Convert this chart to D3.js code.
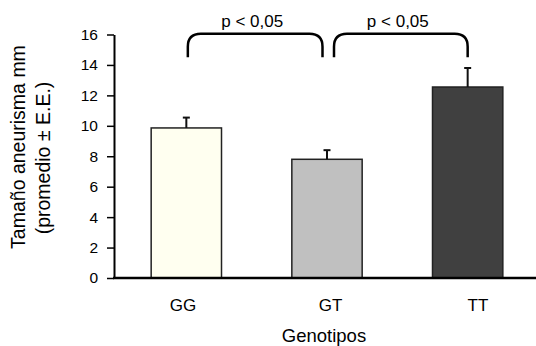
<!DOCTYPE html>
<html>
<head>
<meta charset="utf-8">
<script src="https://cdn.jsdelivr.net/npm/d3@7"></script>
<style>
  body { margin: 0; background: #fff; }
  svg { display: block; font-family: "Liberation Sans", Arial, sans-serif; }
  .y-axis text { font-size: 15.5px; fill: #000; }
</style>
</head>
<body>
<script>
const genotypes = ["GG", "GT", "TT"];
const means = [9.86, 7.8, 12.55];
const errors = [0.68, 0.6, 1.25];
const fills = ["#fffff0", "#c0c0c0", "#404040"];
const yTicks = [0, 2, 4, 6, 8, 10, 12, 14, 16];
const comparisons = [
  {a: "GG", b: "GT", label: "p < 0,05"},
  {a: "GT", b: "TT", label: "p < 0,05"}
];

const width = 536, height = 346;
const x0 = 114, y0 = 278, yTop = 34.5;

const svg = d3.select("body").append("svg")
    .attr("width", width)
    .attr("height", height);

const y = d3.scaleLinear().domain([0, 16]).range([y0, yTop]);

const x = d3.scaleBand()
    .domain(genotypes)
    .range([116, 538])
    .paddingInner(0.5)
    .paddingOuter(0.25);

// category labels sit a little wider than the bars in the original
const xLabel = d3.scalePoint().domain(genotypes).range([183, 478]);

const data = genotypes.map((g, i) => ({g, mean: means[i], err: errors[i], fill: fills[i]}));

// bars
svg.append("g")
  .selectAll("rect")
  .data(data)
  .join("rect")
    .attr("x", d => x(d.g))
    .attr("y", d => y(d.mean))
    .attr("width", x.bandwidth())
    .attr("height", d => y(0) - y(d.mean))
    .attr("fill", d => d.fill)
    .attr("stroke", "#222")
    .attr("stroke-width", 1.5);

// error bars (upper only)
const eb = svg.append("g")
    .attr("stroke", "#111")
    .attr("stroke-width", 2);

eb.selectAll("line.v")
  .data(data)
  .join("line")
    .attr("class", "v")
    .attr("x1", d => x(d.g) + x.bandwidth() / 2)
    .attr("x2", d => x(d.g) + x.bandwidth() / 2)
    .attr("y1", d => y(d.mean))
    .attr("y2", d => y(d.mean + d.err));

eb.selectAll("line.cap")
  .data(data)
  .join("line")
    .attr("class", "cap")
    .attr("x1", d => x(d.g) + x.bandwidth() / 2 - 3.5)
    .attr("x2", d => x(d.g) + x.bandwidth() / 2 + 3.5)
    .attr("y1", d => y(d.mean + d.err))
    .attr("y2", d => y(d.mean + d.err));

// y axis
const yAxis = svg.append("g")
    .attr("class", "y-axis")
    .attr("transform", `translate(${x0},0)`)
    .call(d3.axisLeft(y).tickValues(yTicks).tickSize(7).tickPadding(9).tickSizeOuter(0))
    .attr("font-size", null)
    .attr("font-family", null);
yAxis.select(".domain").attr("stroke", "#000").attr("stroke-width", 2);
yAxis.selectAll(".tick line").attr("stroke", "#000").attr("stroke-width", 1.5);

// x axis baseline
svg.append("line")
    .attr("x1", x0 - 1)
    .attr("x2", width)
    .attr("y1", y0)
    .attr("y2", y0)
    .attr("stroke", "#000")
    .attr("stroke-width", 2.5);

// x labels
svg.append("g")
  .selectAll("text")
  .data(genotypes)
  .join("text")
    .attr("x", d => xLabel(d))
    .attr("y", 311)
    .attr("text-anchor", "middle")
    .attr("font-size", 17)
    .text(d => d);

svg.append("text")
    .attr("x", 324)
    .attr("y", 342)
    .attr("text-anchor", "middle")
    .attr("font-size", 18.5)
    .text("Genotipos");

// y title, two lines
svg.append("text")
    .attr("transform", "translate(25,147) rotate(-90)")
    .attr("text-anchor", "middle")
    .attr("font-size", 19.5)
    .text("Tamaño aneurisma mm");
svg.append("text")
    .attr("transform", "translate(50,158) rotate(-90)")
    .attr("text-anchor", "middle")
    .attr("font-size", 19.5)
    .text("(promedio ± E.E.)");

// significance brackets
const bTop = y(16.05), bBottom = y(14.5), r = 13;
const brackets = comparisons.map((c, i) => {
  const xa = x(c.a) + x.bandwidth() / 2 + (i === 0 ? 1.5 : 7);
  const xb = x(c.b) + x.bandwidth() / 2 + (i === 0 ? -4.5 : 0);
  return {xa, xb, label: c.label};
});

svg.append("g")
  .selectAll("path")
  .data(brackets)
  .join("path")
    .attr("fill", "none")
    .attr("stroke", "#000")
    .attr("stroke-width", 2.5)
    .attr("d", d => `M${d.xa},${bBottom} L${d.xa},${bTop + r} Q${d.xa},${bTop} ${d.xa + r},${bTop}
                     L${d.xb - r},${bTop} Q${d.xb},${bTop} ${d.xb},${bTop + r} L${d.xb},${bBottom}`);

svg.append("g")
  .selectAll("text")
  .data(brackets)
  .join("text")
    .attr("x", d => (d.xa + d.xb) / 2 - 3)
    .attr("y", 26.5)
    .attr("text-anchor", "middle")
    .attr("font-size", 17)
    .text(d => d.label);
</script>
</body>
</html>
